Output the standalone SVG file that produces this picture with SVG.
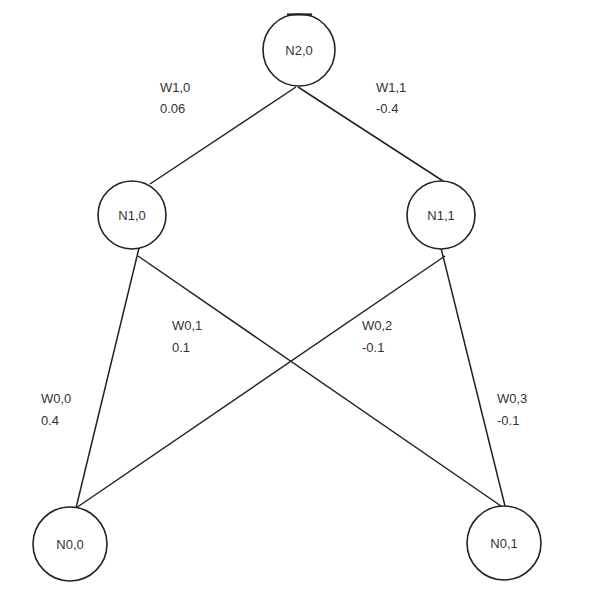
<svg xmlns="http://www.w3.org/2000/svg" width="601" height="595" viewBox="0 0 601 595">
<style>
.node circle{fill:#fff;stroke:#222;stroke-width:1.6}
.node text{font-family:"Liberation Sans",Arial,sans-serif;font-size:13px;fill:#333;text-anchor:middle;dominant-baseline:central}
.edges line{stroke:#222;stroke-width:1.5}
.lbl{font-family:"Liberation Sans",Arial,sans-serif;font-size:13px;fill:#333}
</style>
<rect width="601" height="595" fill="#fff"/>
<g class="edges" id="connectors">
<line x1="296" y1="87" x2="150" y2="184"/>
<line x1="298" y1="87" x2="443" y2="181"/>
<line x1="139" y1="248" x2="76" y2="508"/>
<line x1="138" y1="256" x2="501" y2="506"/>
<line x1="445" y1="256" x2="76" y2="508"/>
<line x1="441" y1="248" x2="505" y2="506"/>
</g>
<g id="N2_0" class="node"><circle cx="299" cy="50" r="36"/><text x="299" y="50">N2,0</text><line x1="287" y1="14.5" x2="312" y2="14.5" stroke="#222" stroke-width="2.2"/></g>
<g id="N1_0" class="node"><circle cx="132" cy="215" r="34"/><text x="132" y="215">N1,0</text></g>
<g id="N1_1" class="node"><circle cx="441" cy="215" r="34"/><text x="441" y="215">N1,1</text></g>
<g id="N0_0" class="node"><circle cx="70" cy="544" r="37"/><text x="70" y="544">N0,0</text></g>
<g id="N0_1" class="node"><circle cx="504" cy="543" r="37"/><text x="504" y="543">N0,1</text></g>
<g id="labels">
<text class="lbl" x="160" y="92">W1,0</text>
<text class="lbl" x="160" y="113">0.06</text>
<text class="lbl" x="376" y="92">W1,1</text>
<text class="lbl" x="376" y="113">-0.4</text>
<text class="lbl" x="172" y="330">W0,1</text>
<text class="lbl" x="172" y="352">0.1</text>
<text class="lbl" x="362" y="330">W0,2</text>
<text class="lbl" x="362" y="352">-0.1</text>
<text class="lbl" x="41" y="403">W0,0</text>
<text class="lbl" x="41" y="425">0.4</text>
<text class="lbl" x="497" y="403">W0,3</text>
<text class="lbl" x="497" y="425">-0.1</text>
</g>
</svg>
